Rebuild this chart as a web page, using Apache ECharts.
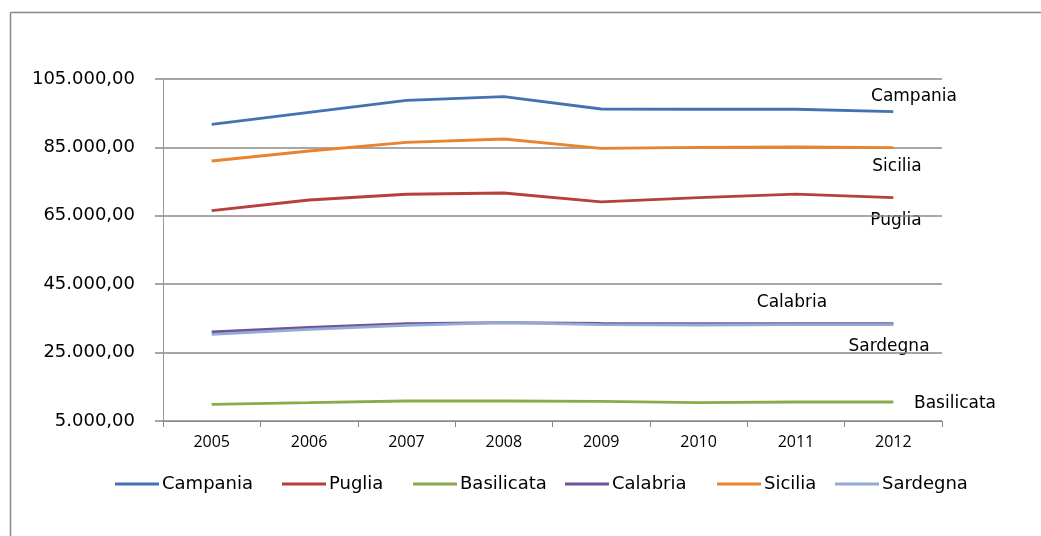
<!DOCTYPE html>
<html>
<head>
<meta charset="utf-8">
<script src="https://cdn.jsdelivr.net/npm/echarts@6/dist/echarts.min.js"></script>
<style>html,body{margin:0;padding:0;background:#fff;overflow:hidden}#c{width:1041px;height:536px}</style>
</head>
<body>
<div id="c"></div>
<script>
const categories = ['2005','2006','2007','2008','2009','2010','2011','2012'];
const campania   = [91750, 95260, 98770, 99820, 96230, 96150, 96150, 95450];
const puglia     = [66500, 69620, 71300, 71670, 69050, 70300, 71350, 70300];
const basilicata = [9880, 10350, 10850, 10850, 10750, 10350, 10560, 10560];
const calabria   = [31020, 32400, 33450, 33740, 33570, 33450, 33450, 33450];
const sicilia    = [81020, 83950, 86490, 87460, 84740, 85030, 85120, 84910];
const sardegna   = [30350, 31810, 32980, 33740, 33160, 33070, 33160, 33200];
const seriesNames = ['Campania','Puglia','Basilicata','Calabria','Sicilia','Sardegna'];
const seriesData  = [campania, puglia, basilicata, calabria, sicilia, sardegna];
const colors = ['#4472B0','#B5403D','#8BAA4B','#6F5597','#E8832F','#92AAD6'];
const annotations = [
  {text:'Campania', x:914, y:97},
  {text:'Sicilia', x:897, y:167},
  {text:'Puglia', x:896, y:221},
  {text:'Calabria', x:792, y:303},
  {text:'Sardegna', x:889, y:347},
  {text:'Basilicata', x:955, y:404}
];
const legendLefts = [110, 277, 408, 560, 712, 830];

function fmt(v){
  const s = Math.round(v).toString().replace(/\B(?=(\d{3})+(?!\d))/g,'.');
  return s + ',00';
}

const chart = echarts.init(document.getElementById('c'), null, {renderer:'canvas'});
chart.setOption({
  animation:false,
  backgroundColor:'#fff',
  color: colors,
  grid:{left:163, right:99, top:79, bottom:115, containLabel:false},
  legend: seriesNames.map((n,i)=>({
    data:[n], left:legendLefts[i], top:470,
    icon:'rect', itemWidth:44, itemHeight:3, itemGap:0,
    textStyle:{fontFamily:'DejaVu Sans', fontSize:18, color:'#000', padding:[0,0,0,-2]},
    selectedMode:false
  })),
  xAxis:{
    type:'category', data:categories, boundaryGap:true,
    axisLine:{lineStyle:{color:'#888', width:1}},
    axisTick:{show:true, length:6, lineStyle:{color:'#888'}},
    axisLabel:{color:'#000', fontFamily:'Open Sans', fontSize:16, margin:13}
  },
  yAxis:{
    type:'value', min:5000, max:105000, interval:20000,
    axisLine:{show:true, lineStyle:{color:'#999', width:1}},
    axisTick:{show:true, length:8, lineStyle:{color:'#888', width:1.5}},
    splitLine:{show:true, lineStyle:{color:'#8a8a8a', width:1.5}},
    axisLabel:{color:'#000', fontFamily:'DejaVu Sans', fontSize:18, margin:28, formatter:fmt}
  },
  series: seriesNames.map((n,i)=>({
    name:n, type:'line', data:seriesData[i], showSymbol:false, symbol:'none',
    lineStyle:{width:2.8, color:colors[i]}, itemStyle:{color:colors[i]}
  })),
  graphic:[
    {type:'line', shape:{x1:10.5, y1:12.5, x2:10.5, y2:536}, style:{stroke:'#888', lineWidth:1.5}, silent:true},
    {type:'line', shape:{x1:10.5, y1:12.5, x2:1041, y2:12.5}, style:{stroke:'#888', lineWidth:1.5}, silent:true},
    ...annotations.map(a=>({type:'text', x:a.x, y:a.y, style:{text:a.text, fill:'#000', font:'17px "DejaVu Sans"', align:'center', verticalAlign:'middle'}}))
  ]
});
</script>
</body>
</html>
